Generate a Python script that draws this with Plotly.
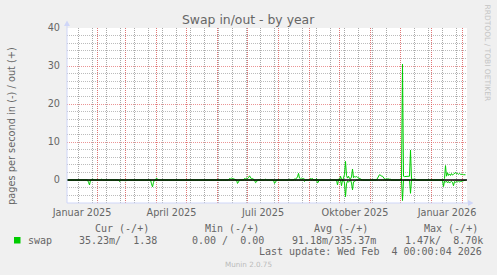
import pandas as pd
import plotly.graph_objects as go

# ---------------- data ----------------
out_dates = [
    "2025-01-01",
    "2025-01-26", "2025-01-27", "2025-01-28",
    "2025-02-04", "2025-02-05", "2025-02-06",
    "2025-03-31", "2025-04-01", "2025-04-02", "2025-04-03",
    "2025-06-12", "2025-06-13", "2025-06-14", "2025-06-15", "2025-06-16", "2025-06-17", "2025-06-18", "2025-06-19", "2025-06-20",
    "2025-06-27", "2025-06-28", "2025-06-29", "2025-06-30", "2025-07-01", "2025-07-02", "2025-07-03", "2025-07-04", "2025-07-05", "2025-07-06", "2025-07-07", "2025-07-08",
    "2025-07-18", "2025-07-19", "2025-07-20",
    "2025-08-11", "2025-08-12", "2025-08-13",
    "2025-08-16", "2025-08-17", "2025-08-18", "2025-08-19", "2025-08-20", "2025-08-21", "2025-08-22", "2025-08-23", "2025-08-24", "2025-08-25", "2025-08-26", "2025-08-27", "2025-08-28",
    "2025-09-01", "2025-09-02", "2025-09-03", "2025-09-04", "2025-09-05",
    "2025-09-07", "2025-09-08", "2025-09-09",
    "2025-09-29", "2025-09-30", "2025-10-01", "2025-10-02", "2025-10-03", "2025-10-04", "2025-10-05", "2025-10-06", "2025-10-07", "2025-10-08", "2025-10-09", "2025-10-10", "2025-10-11", "2025-10-12", "2025-10-13", "2025-10-14", "2025-10-15", "2025-10-16", "2025-10-17", "2025-10-18", "2025-10-19", "2025-10-20", "2025-10-21", "2025-10-22", "2025-10-23", "2025-10-24",
    "2025-11-07", "2025-11-08", "2025-11-09", "2025-11-10", "2025-11-11", "2025-11-12", "2025-11-13", "2025-11-14", "2025-11-15", "2025-11-16", "2025-11-17", "2025-11-18", "2025-11-19", "2025-11-20", "2025-11-21", "2025-11-22",
    "2025-12-02", "2025-12-03", "2025-12-04", "2025-12-05", "2025-12-06", "2025-12-07", "2025-12-08", "2025-12-09", "2025-12-10", "2025-12-11", "2025-12-12", "2025-12-13", "2025-12-14", "2025-12-15", "2025-12-16", "2025-12-17",
    "2026-01-13", "2026-01-14", "2026-01-15", "2026-01-16", "2026-01-17", "2026-01-18", "2026-01-19", "2026-01-20", "2026-01-21", "2026-01-22", "2026-01-23", "2026-01-24", "2026-01-25", "2026-01-26", "2026-01-27", "2026-01-28", "2026-01-29", "2026-01-30", "2026-01-31", "2026-02-01", "2026-02-02", "2026-02-03", "2026-02-04",
]
out_values = [
    0,
    0, 0.3, 0,
    0, 0.2, 0,
    0, 0.5, 0.2, 0,
    0, 0.4, 0.3, 0.5, 0.4, 0.3, 0.4, 0.2, 0,
    0, 0.4, 0.3, 0.5, 0.4, 0.6, 1.1, 0.5, 0.3, 0.4, 0.3, 0,
    0, 0.2, 0,
    0, 0.2, 0,
    0, 0.3, 0.2, 0.4, 0.8, 1.75, 0.5, 0.3, 0.5, 0.3, 0.4, 0.2, 0,
    0, 0.4, 0.3, 0.4, 0,
    0, 0.4, 0,
    0, 0.3, 0, 1.0, 0.2, 0, 0.5, 1.5, 4.9, 1.2, 0.5, 1.0, 0.4, 0.3, 0.8, 2.9, 0.6, 0.9, 0.8, 0.9, 0.7, 0.6, 0.5, 0.4, 0.3, 0,
    0, 0.5, 1.2, 1.4, 1.3, 1.0, 1.0, 0.6, 0.3, 0.2, 0.3, 0.2, 0.3, 0.2, 0.2, 0,
    0, 30.5, 1.0, 0.9, 0.9, 1.0, 0.9, 0.9, 1.0, 7.9, 0.3, 0.2, 0.3, 0.2, 0.2, 0,
    0, 0.4, 3.8, 1.0, 1.9, 1.2, 1.6, 1.2, 1.7, 1.3, 1.5, 1.9, 2.0, 1.6, 1.7, 1.5, 1.7, 1.5, 1.6, 1.5, 1.4, 1.4, 1.38,
]

in_dates = [
    "2025-01-01",
    "2025-01-22", "2025-01-23", "2025-01-24", "2025-01-25",
    "2025-02-22", "2025-02-23", "2025-02-24", "2025-02-25",
    "2025-02-28", "2025-03-01", "2025-03-02",
    "2025-03-26", "2025-03-27", "2025-03-28", "2025-03-29", "2025-03-30",
    "2025-06-20", "2025-06-21", "2025-06-22", "2025-06-23",
    "2025-07-08", "2025-07-09", "2025-07-10", "2025-07-11",
    "2025-07-27", "2025-07-28", "2025-07-29", "2025-07-30",
    "2025-08-26", "2025-08-27", "2025-08-28",
    "2025-09-08", "2025-09-09", "2025-09-10", "2025-09-11",
    "2025-09-28", "2025-09-29", "2025-09-30", "2025-10-02", "2025-10-03", "2025-10-04", "2025-10-05", "2025-10-06", "2025-10-07", "2025-10-08", "2025-10-09", "2025-10-10", "2025-10-11", "2025-10-12", "2025-10-13", "2025-10-14", "2025-10-15", "2025-10-16", "2025-10-17", "2025-10-18",
    "2025-12-02", "2025-12-03", "2025-12-04",
    "2025-12-10", "2025-12-11", "2025-12-12",
    "2026-01-12", "2026-01-13", "2026-01-14", "2026-01-15", "2026-01-16", "2026-01-17", "2026-01-18", "2026-01-19", "2026-01-20", "2026-01-21", "2026-01-22", "2026-01-23", "2026-01-24", "2026-01-25", "2026-01-26", "2026-01-27", "2026-01-28", "2026-01-29", "2026-01-30", "2026-01-31", "2026-02-01", "2026-02-02", "2026-02-03", "2026-02-04",
]
in_values = [
    0,
    0, -0.6, -1.3, 0,
    0, -0.4, -0.3, 0,
    0, -0.3, 0,
    0, -1.0, -1.8, -0.6, 0,
    0, -0.9, -0.5, 0,
    0, -0.7, -0.5, 0,
    0, -0.9, -0.6, 0,
    0, -0.4, 0,
    0, -0.8, -0.3, 0,
    0, -1.3, 0, 0, -1.5, 0, 0, -0.8, -4.4, -1.0, -0.3, -0.6, -0.2, 0, -0.8, -2.6, -0.5, -0.3, -0.2, 0,
    0, -5.4, 0,
    0, -3.5, 0,
    0, -1.7, -0.3, -0.6, -0.3, -0.7, -0.4, -0.8, -0.5, -0.4, -0.6, -1.5, -0.4, -0.6, -0.4, -0.5, -0.3, -0.5, -0.4, -0.3, -0.4, -0.3, -0.2, -0.04,
]

x_tick_vals = ["2025-01-16 12:00", "2025-04-16 00:00", "2025-07-16 12:00", "2025-10-16 12:00", "2026-01-16 12:00"]
x_tick_text = ["Januar 2025", "April 2025", "Juli 2025", "Oktober 2025", "Januar 2026"]
x_range = ["2025-01-01 12:00", "2026-02-05 12:00"]
y_range = [-6.05, 40]

legend_headers = ["Cur (-/+)", "Min (-/+)", "Avg (-/+)", "Max (-/+)"]
legend_values = ["35.23m/\u00a0\u00a01.38", "0.00\u00a0/\u00a0\u00a00.00", "91.18m/335.37m", "1.47k/\u00a0\u00a08.70k"]
series_name = "swap"
last_update = "Last update: Wed Feb\u00a0\u00a04 00:00:04 2026"

# ---------------- layout geometry ----------------
W, H = 497, 275
L, R, T, B = 67, 467, 28, 203
GREEN = "#00CC00"
AXIS = "#CFD6F8"
FONT_C = "#666666"
MGRID = "rgba(222,79,79,0.6)"
GRID = "rgba(143,143,143,0.6)"
MGRID_V = "#E07575"
GRID_V = "#A8A8A8"
DOTS = "1px,1px"

# vertical grid positions (axis decoration): month starts and two-week steps
month_lines = pd.date_range("2025-02-01", "2026-02-01", freq="MS")
week_lines = pd.date_range("2025-01-13", "2026-02-04", freq="14D")


def px(x):
    return (x - L) / (R - L)


def py(y):
    return (B - y) / (B - T)


fig = go.Figure()
fig.add_trace(go.Scatter(x=out_dates, y=out_values, mode="lines",
                         line=dict(color=GREEN, width=1), hoverinfo="skip", showlegend=False))
fig.add_trace(go.Scatter(x=in_dates, y=in_values, mode="lines",
                         line=dict(color=GREEN, width=1), hoverinfo="skip", showlegend=False))

fig.update_layout(
    width=W, height=H,
    margin=dict(l=L, r=W - R, t=T, b=H - B, pad=0),
    paper_bgcolor="#F0F0F0", plot_bgcolor="#FFFFFF",
    font=dict(family="DejaVu Sans", color=FONT_C),
    xaxis=dict(type="date", range=x_range, automargin=False,
               tickmode="array", tickvals=x_tick_vals, ticktext=x_tick_text,
               ticks="", showgrid=False, zeroline=False, showline=False,
               tickfont=dict(family="DejaVu Sans", size=9.7, color=FONT_C),
               ticklabelstandoff=2),
    yaxis=dict(range=y_range, tick0=0, dtick=10, ticks="", automargin=False,
               showgrid=True, gridcolor=MGRID, griddash=DOTS, gridwidth=1,
               minor=dict(showgrid=True, gridcolor=GRID, griddash=DOTS, gridwidth=1,
                          tick0=0, dtick=2),
               zeroline=False, showline=False,
               tickfont=dict(family="DejaVu Sans", size=9.7, color=FONT_C),
               ticklabelstandoff=6),
)

shapes = []
for d in week_lines:
    shapes.append(dict(type="line", xref="x", yref="paper", x0=d, x1=d, y0=0, y1=1,
                       line=dict(color=GRID_V, width=1, dash=DOTS), layer="below"))
for d in month_lines:
    shapes.append(dict(type="line", xref="x", yref="paper", x0=d, x1=d, y0=0, y1=1,
                       line=dict(color=MGRID_V, width=1, dash=DOTS), layer="below"))
# zero rule (black), above the data
shapes.append(dict(type="line", xref="paper", yref="y", x0=0, x1=1, y0=0, y1=0,
                   line=dict(color="#000000", width=1.5), layer="above"))
# axes with arrows
shapes.append(dict(type="line", xref="paper", yref="paper", x0=px(67), x1=px(67), y0=py(203), y1=py(23),
                   line=dict(color=AXIS, width=1), layer="above"))
shapes.append(dict(type="line", xref="paper", yref="paper", x0=px(67), x1=px(470), y0=py(203), y1=py(203),
                   line=dict(color=AXIS, width=1), layer="above"))
shapes.append(dict(type="path", xref="paper", yref="paper",
                   path=f"M {px(64)},{py(26)} L {px(70)},{py(26)} L {px(67)},{py(20.5)} Z",
                   fillcolor=AXIS, line=dict(width=0), layer="above"))
shapes.append(dict(type="path", xref="paper", yref="paper",
                   path=f"M {px(468)},{py(200)} L {px(468)},{py(206)} L {px(473.5)},{py(203)} Z",
                   fillcolor=AXIS, line=dict(width=0), layer="above"))
# legend swatch
shapes.append(dict(type="rect", xref="paper", yref="paper", x0=px(14), x1=px(20.5), y0=py(243.5), y1=py(237),
                   fillcolor=GREEN, line=dict(width=0)))
fig.update_layout(shapes=shapes)

ann = []


def text(x, y, s, size, color=FONT_C, family="DejaVu Sans", xanchor="left", angle=0):
    ann.append(dict(x=px(x), y=py(y), xref="paper", yref="paper", text=s, showarrow=False,
                    xanchor=xanchor, yanchor="middle", textangle=angle, borderpad=0,
                    font=dict(family=family, size=size, color=color)))


text(248.5, 19.7, "Swap in/out - by year", 12.4, xanchor="center")
text(11, 126, "pages per second in (-) / out (+)", 9.8, xanchor="center", angle=-90)
text(487.5, 53, "RRDTOOL / TOBI OETIKER", 7.5, color="#C4C4C4", xanchor="center", angle=90)

MONO = "DejaVu Sans Mono"
for xh, s in zip([94, 204, 313.3, 423.3], legend_headers):
    text(xh, 228, s, 10, family=MONO)
text(26.7, 240, series_name, 10, family=MONO)
for xv, s in zip([77.7, 190.7, 291.3, 404.3], legend_values):
    text(xv, 240, s, 10, family=MONO)
text(482.7, 251, last_update, 10, family=MONO, xanchor="right")
text(248, 264, "Munin 2.0.75", 7.2, color="#BBBBBB", xanchor="center")

fig.update_layout(annotations=ann)
fig.write_html("out.html")
